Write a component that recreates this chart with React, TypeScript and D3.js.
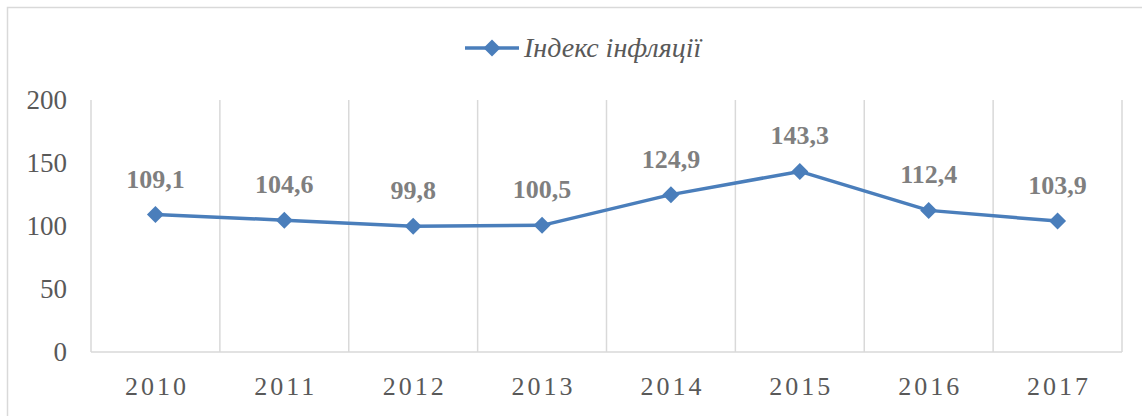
import React from "react";
import * as d3 from "d3";

const categories = ["2010", "2011", "2012", "2013", "2014", "2015", "2016", "2017"];
const values = [109.1, 104.6, 99.8, 100.5, 124.9, 143.3, 112.4, 103.9];
const yTicks = [0, 50, 100, 150, 200];
const seriesName = "Індекс інфляції";

const W = 1142;
const H = 416;
const left = 91;
const right = 1122;
const top = 100;
const bottom = 352;
const color = "#4a7ebb";
const font = "'Liberation Serif', 'Times New Roman', serif";

export default function App() {
  const x = d3.scaleBand<string>().domain(categories).range([left, right]).padding(0);
  const y = d3.scaleLinear().domain([0, 200]).range([bottom, top]);
  const line = d3
    .line<number>()
    .x((_, i) => (x(categories[i]) as number) + x.bandwidth() / 2)
    .y((d) => y(d));
  const diamond = (cx: number, cy: number, r: number) =>
    `M${cx},${cy - r}L${cx + r},${cy}L${cx},${cy + r}L${cx - r},${cy}Z`;
  const boundaries = [...categories.map((c) => x(c) as number), right];

  return (
    <svg width={W} height={H} style={{ position: "absolute", left: 0, top: 0, display: "block" }}>
      <rect x={0} y={0} width={W} height={H} fill="#fff" />
      <rect x={7.5} y={7.5} width={W + 10} height={H + 10} fill="none" stroke="#d9d9d9" strokeWidth={1.5} />
      {boundaries.map((bx, i) => (
        <line key={i} x1={bx} x2={bx} y1={top} y2={bottom} stroke="#d9d9d9" strokeWidth={1.5} />
      ))}
      <line x1={left} x2={right} y1={bottom} y2={bottom} stroke="#d9d9d9" strokeWidth={1.5} />
      {yTicks.map((t) => (
        <text key={t} x={67} y={y(t) + 9} textAnchor="end" fontFamily={font} fontSize={27} fill="#595959">
          {t}
        </text>
      ))}
      {categories.map((c) => (
        <text
          key={c}
          x={(x(c) as number) + x.bandwidth() / 2 + 1.5}
          y={395}
          textAnchor="middle"
          fontFamily={font}
          fontSize={26}
          letterSpacing={3}
          fill="#595959"
        >
          {c}
        </text>
      ))}
      <path d={line(values) || ""} fill="none" stroke={color} strokeWidth={3.5} strokeLinejoin="round" />
      {values.map((v, i) => {
        const cx = (x(categories[i]) as number) + x.bandwidth() / 2;
        const cy = y(v);
        return (
          <g key={i}>
            <path d={diamond(cx, cy, 8.5)} fill={color} />
            <text x={cx} y={cy - 27} textAnchor="middle" fontFamily={font} fontSize={26} fontWeight="bold" fill="#7f7f7f">
              {String(v).replace(".", ",")}
            </text>
          </g>
        );
      })}
      <g>
        <line x1={465} x2={519} y1={48} y2={48} stroke={color} strokeWidth={3.5} />
        <path d={diamond(492, 48, 8.5)} fill={color} />
        <text x={524} y={57} fontFamily={font} fontSize={28} fontStyle="italic" fill="#595959">
          {seriesName}
        </text>
      </g>
    </svg>
  );
}
